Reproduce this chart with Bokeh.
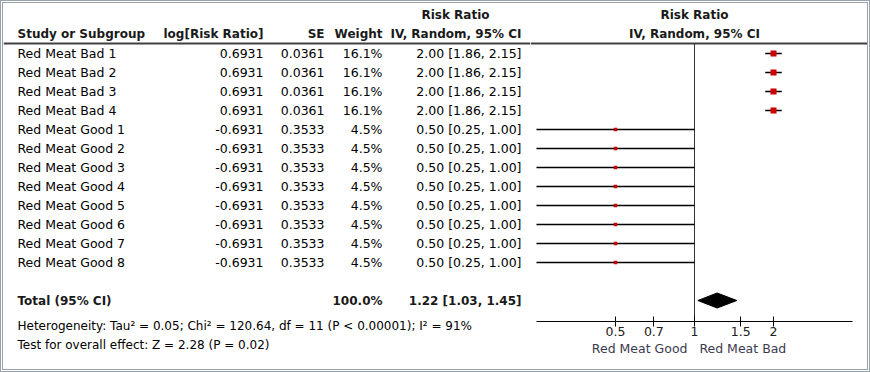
import numpy as np
from bokeh.plotting import figure
from bokeh.layouts import row
from bokeh.models import Range1d, FixedTicker, Title
from bokeh.embed import file_html
from bokeh.resources import INLINE
from bokeh.core.properties import value

# ---------------- data ----------------
studies = ["Red Meat Bad 1", "Red Meat Bad 2", "Red Meat Bad 3", "Red Meat Bad 4",
           "Red Meat Good 1", "Red Meat Good 2", "Red Meat Good 3", "Red Meat Good 4",
           "Red Meat Good 5", "Red Meat Good 6", "Red Meat Good 7", "Red Meat Good 8"]
log_rr = [0.6931, 0.6931, 0.6931, 0.6931,
          -0.6931, -0.6931, -0.6931, -0.6931, -0.6931, -0.6931, -0.6931, -0.6931]
se = [0.0361, 0.0361, 0.0361, 0.0361,
      0.3533, 0.3533, 0.3533, 0.3533, 0.3533, 0.3533, 0.3533, 0.3533]
weight = [16.1, 16.1, 16.1, 16.1, 4.5, 4.5, 4.5, 4.5, 4.5, 4.5, 4.5, 4.5]
rr = [2.00, 2.00, 2.00, 2.00, 0.50, 0.50, 0.50, 0.50, 0.50, 0.50, 0.50, 0.50]
rr_lo = [1.86, 1.86, 1.86, 1.86, 0.25, 0.25, 0.25, 0.25, 0.25, 0.25, 0.25, 0.25]
rr_hi = [2.15, 2.15, 2.15, 2.15, 1.00, 1.00, 1.00, 1.00, 1.00, 1.00, 1.00, 1.00]

total_label = "Total (95% CI)"
total_weight = 100.0
total_rr = 1.22
total_lo = 1.03
total_hi = 1.45

heterogeneity = "Heterogeneity: Tau\u00b2 = 0.05; Chi\u00b2 = 120.64, df = 11 (P < 0.00001); I\u00b2 = 91%"
overall = "Test for overall effect: Z = 2.28 (P = 0.02)"

col_headers = ["Study or Subgroup", "log[Risk Ratio]", "SE", "Weight"]
rr_header = ["Risk Ratio", "IV, Random, 95% CI"]
axis_ticks = [0.5, 0.7, 1, 1.5, 2]
axis_tick_labels = ["0.5", "0.7", "1", "1.5", "2"]
favours_left = "Red Meat Good"
favours_right = "Red Meat Bad"

# ---------------- layout constants ----------------
FONT = "DejaVu Sans"
FS = "12.5px"
HFS = "12px"
NFS = "12px"
ROW_PX = 19.0
TOP_PX = 50.0
H = 366
LW = 527
RW = 337
FRAME_H = 318
AXIS_PX = H - FRAME_H
PX_PER_LN = 114.0
ONE_PX = 164.0

BLACK = "#000000"
HEAD = "#1a1a1a"
LINE = "#404040"
RED = "#cc0000"


def y_of(px):
    return (px - TOP_PX) / ROW_PX


def yr(h):
    return Range1d(start=y_of(h), end=y_of(0))


rows = list(range(len(studies)))
total_row = len(studies) + 1
head1_y = y_of(11)
head2_y = y_of(30)
hline_y = y_of(40)

tf = value(FONT)

common = dict(output_backend="svg", toolbar_location=None, min_border=0,
              outline_line_color=None, background_fill_color="white",
              border_fill_color="white")

# ---------------- left table ----------------
left = figure(width=LW, height=H, x_range=Range1d(0, LW), y_range=yr(FRAME_H),
              x_axis_location=None, y_axis_location=None,
              min_border_bottom=AXIS_PX, **common)
left.grid.visible = False

X_STUDY, X_LOG, X_SE, X_W, X_RR, X_RRC = 14, 260, 321, 379, 518, 452


def ltext(x, y, t, align="left", bold=False, color=BLACK, size=FS):
    left.text(x=x, y=y, text=t, text_align=align, text_baseline="middle",
              text_font=tf, text_font_size=value(size), text_color=color,
              text_font_style="bold" if bold else "normal")


# headers
ltext([X_STUDY], [head2_y], [col_headers[0]], bold=True, color=HEAD, size=HFS)
ltext([X_LOG], [head2_y], [col_headers[1]], align="right", bold=True, color=HEAD, size=HFS)
ltext([X_SE], [head2_y], [col_headers[2]], align="right", bold=True, color=HEAD, size=HFS)
ltext([X_W], [head2_y], [col_headers[3]], align="right", bold=True, color=HEAD, size=HFS)
ltext([X_RRC], [head1_y], [rr_header[0]], align="center", bold=True, color=HEAD, size=HFS)
ltext([X_RR], [head2_y], [rr_header[1]], align="right", bold=True, color=HEAD, size=HFS)
left.segment(x0=[0], x1=[LW], y0=[hline_y], y1=[hline_y], line_color=LINE, line_width=2)

# rows
ltext([X_STUDY] * len(rows), rows, studies)
ltext([X_LOG] * len(rows), rows, ["%.4f" % v for v in log_rr], align="right")
ltext([X_SE] * len(rows), rows, ["%.4f" % v for v in se], align="right")
ltext([X_W] * len(rows), rows, ["%.1f%%" % v for v in weight], align="right")
ltext([X_RR] * len(rows), rows,
      ["%.2f [%.2f, %.2f]" % (a, b, c) for a, b, c in zip(rr, rr_lo, rr_hi)], align="right")

# total
ltext([X_STUDY], [total_row], [total_label], bold=True, color=HEAD, size=HFS)
ltext([X_W], [total_row], ["%.1f%%" % total_weight], align="right", bold=True, color=HEAD, size=HFS)
ltext([X_RR], [total_row], ["%.2f [%.2f, %.2f]" % (total_rr, total_lo, total_hi)],
      align="right", bold=True, color=HEAD, size=HFS)

# footnotes (in the bottom panel, below the table frame)
for tt, so in ((heterogeneity, -9), (overall, 14)):
    left.add_layout(Title(text=tt, align="left", offset=X_STUDY, standoff=so,
                          text_font=FONT, text_font_size=NFS, text_font_style="normal",
                          text_color=BLACK), "below")

# ---------------- right forest ----------------
xr = Range1d(float(np.exp(-ONE_PX / PX_PER_LN)), float(np.exp((RW - ONE_PX) / PX_PER_LN)))
right = figure(width=RW, height=H, x_axis_type="log", x_range=xr, y_range=yr(FRAME_H),
               y_axis_location=None, min_border_bottom=AXIS_PX, **common)
right.grid.visible = False

ax = right.xaxis[0]
ax.ticker = FixedTicker(ticks=axis_ticks, minor_ticks=[])
ax.major_label_overrides = {t: l for t, l in zip(axis_ticks, axis_tick_labels)}
ax.bounds = (0.25, 4)
ax.axis_line_color = BLACK
ax.axis_line_width = 1
ax.major_tick_line_color = BLACK
ax.major_tick_in = 5
ax.major_tick_out = 5
ax.minor_tick_line_color = None
ax.major_label_standoff = 0
ax.major_label_text_font = FONT
ax.major_label_text_font_size = FS
ax.major_label_text_color = "#202020"
nb = "\u00a0"
ax.axis_label = favours_left + nb * 3 + favours_right + nb * 5
ax.axis_label_text_font = FONT
ax.axis_label_text_font_size = FS
ax.axis_label_text_font_style = "normal"
ax.axis_label_text_color = "#3b3b4f"
ax.axis_label_standoff = 2

# header
right.text(x=[1], y=[head1_y], text=[rr_header[0]], text_align="center", text_baseline="middle",
           text_font=tf, text_font_size=value(HFS), text_font_style="bold", text_color=HEAD)
right.text(x=[1], y=[head2_y], text=[rr_header[1]], text_align="center", text_baseline="middle",
           text_font=tf, text_font_size=value(HFS), text_font_style="bold", text_color=HEAD)
right.segment(x0=[xr.start], x1=[xr.end], y0=[hline_y], y1=[hline_y], line_color=LINE, line_width=2)

# line of no effect
right.segment(x0=[1], x1=[1], y0=[hline_y], y1=[y_of(FRAME_H + 2)], line_color="#333333", line_width=1)

# CIs and squares
right.segment(x0=rr_lo, x1=rr_hi, y0=rows, y1=rows, line_color=BLACK, line_width=1.6)
sizes = [max(3.5, 1.5 * np.sqrt(w)) for w in weight]
right.scatter(x=rr, y=rows, size=sizes, marker="square", fill_color=RED, line_color=None)

# diamond
dh = 7.5 / ROW_PX
right.patch(x=[total_lo, total_rr, total_hi, total_rr],
            y=[total_row, total_row - dh, total_row, total_row + dh],
            fill_color=BLACK, line_color=BLACK)

layout = row(left, right, styles={"border": "3px double #98a2ac", "background": "white"})

open("out.html", "w").write(file_html(layout, INLINE))
